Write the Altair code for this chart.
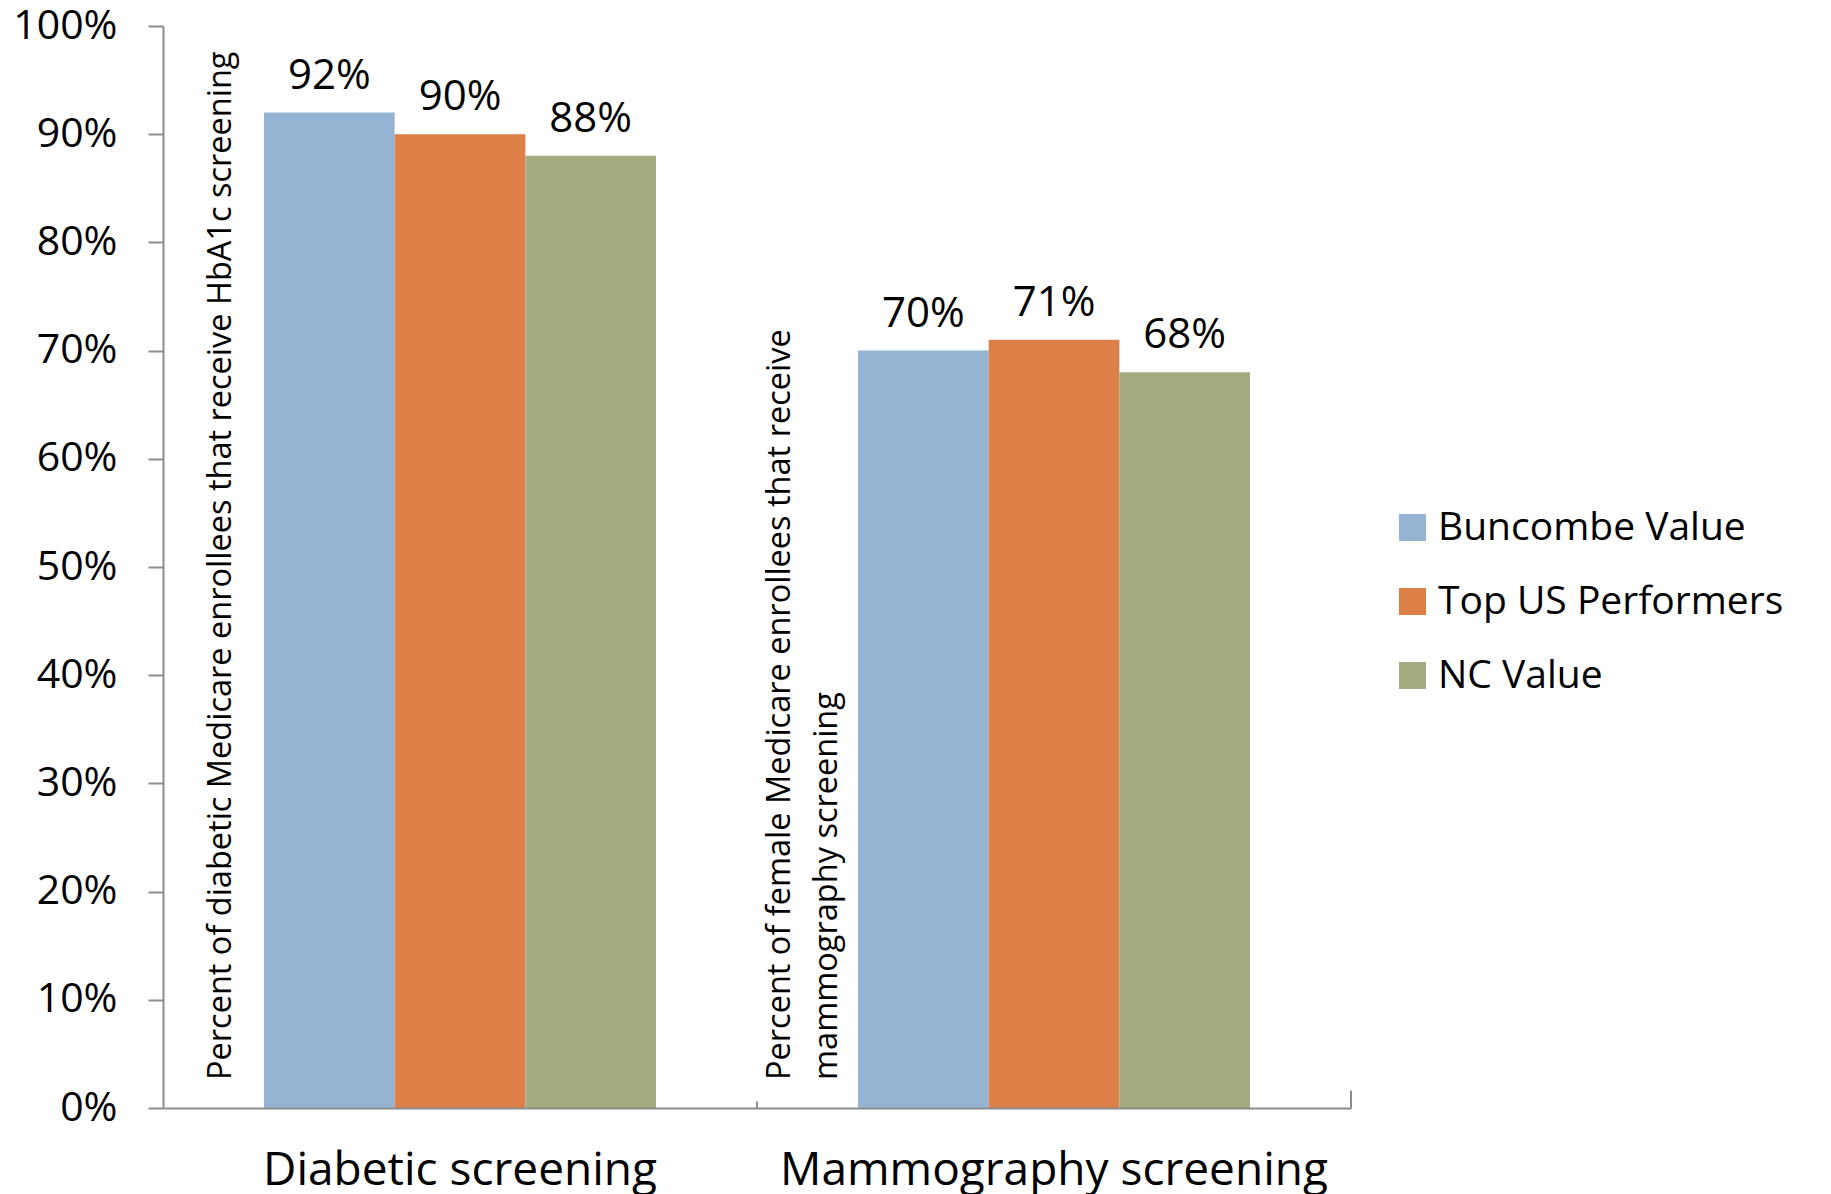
import altair as alt
import pandas as pd

# ---- data ----
categories = ["Diabetic screening", "Mammography screening"]
series = ["Buncombe Value", "Top US Performers", "NC Value"]
buncombe_value = [0.92, 0.70]
top_us_performers = [0.90, 0.71]
nc_value = [0.88, 0.68]
colors = ["#95B4D3", "#DD8047", "#A5AB81"]
y_tick_values = [0.0, 0.1, 0.2, 0.3, 0.4, 0.5, 0.6, 0.7, 0.8, 0.9, 1.0]
note_diabetic = ["Percent of diabetic Medicare enrollees that receive HbA1c screening"]
note_mammography = ["Percent of female Medicare enrollees that receive", "mammography screening"]

FONT = "Open Sans"
GRAY = "#8C8C8C"

rows = []
for s, vals in zip(series, [buncombe_value, top_us_performers, nc_value]):
    for c, v in zip(categories, vals):
        rows.append({"category": c, "series": s, "value": v})
df = pd.DataFrame(rows)

x_enc = alt.X(
    "category:N",
    sort=categories,
    scale=alt.Scale(paddingInner=0.34, paddingOuter=0.17),
    axis=alt.Axis(
        title=None, labelAngle=0, labelAlign="center", labelFont=FONT, labelFontSize=46,
        labelColor="black", ticks=False, tickSize=0, labelPadding=62, labelLimit=0,
        domainColor=GRAY, domainWidth=2, zindex=1,
    ),
)
y_enc = alt.Y(
    "value:Q",
    scale=alt.Scale(domain=[0, 1], nice=False),
    axis=alt.Axis(
        title=None, values=y_tick_values, format=".0%", labelFont=FONT, labelFontSize=41,
        labelColor="black", labelPadding=31, tickSize=15, tickColor=GRAY, tickWidth=2,
        domainColor=GRAY, domainWidth=2, gridColor=GRAY, gridWidth=2, labelLimit=0,
    ),
)

base = alt.Chart(df)

bars = base.mark_bar().encode(
    x=x_enc,
    xOffset=alt.XOffset("series:N", sort=series, scale=alt.Scale(paddingInner=0, paddingOuter=0)),
    y=y_enc,
    color=alt.Color(
        "series:N", sort=series, scale=alt.Scale(domain=series, range=colors),
        legend=alt.Legend(
            title=None, orient="none", legendX=1230, legendY=482, symbolType="square",
            symbolSize=729, symbolStrokeWidth=0, labelFont=FONT, labelFontSize=39,
            labelColor="black", rowPadding=34, labelOffset=6, padding=0, labelLimit=0,
        ),
    ),
)

labels = base.mark_text(font=FONT, fontSize=42, baseline="alphabetic", dy=-24, color="black").encode(
    x=alt.X("category:N", sort=categories),
    xOffset=alt.XOffset("series:N", sort=series),
    y=alt.Y("value:Q"),
    text=alt.Text("value:Q", format=".0%"),
)

notes1 = alt.Data(values=[{"category": categories[0], "note": note_diabetic}])
notes2 = alt.Data(values=[{"category": categories[1], "note": note_mammography}])

box1 = alt.Chart(notes1).mark_bar(color="white", width=81, xOffset=-233.5).encode(
    x=alt.X("category:N", sort=categories), y=alt.datum(1.0), y2=alt.datum(0.004)
)
box2 = alt.Chart(notes2).mark_bar(color="white", width=110, xOffset=-250).encode(
    x=alt.X("category:N", sort=categories), y=alt.datum(0.74), y2=alt.datum(0.004)
)

text1 = alt.Chart(notes1).mark_text(
    font=FONT, fontSize=32.5, angle=270, align="left", baseline="alphabetic",
    dx=28, dy=-229, lineHeight=47, color="black",
).encode(x=alt.X("category:N", sort=categories), y=alt.datum(0.0), text="note:N")

text2 = alt.Chart(notes2).mark_text(
    font=FONT, fontSize=32.5, angle=270, align="left", baseline="alphabetic",
    dx=28, dy=-264, lineHeight=47, color="black",
).encode(x=alt.X("category:N", sort=categories), y=alt.datum(0.0), text="note:N")

tick_mid = alt.Chart(notes2).mark_rule(color=GRAY, strokeWidth=2, xOffset=-297).encode(
    x=alt.X("category:N", sort=categories), y=alt.datum(0.0), y2=alt.datum(0.006)
)
tick_end = alt.Chart(notes2).mark_rule(color=GRAY, strokeWidth=2, xOffset=297).encode(
    x=alt.X("category:N", sort=categories), y=alt.datum(0.0), y2=alt.datum(0.016)
)

chart = alt.layer(box1, box2, bars, labels, text1, text2, tick_mid, tick_end).properties(
    width=1188,
    height=1082,
    autosize=alt.AutoSizeParams(type="none"),
    padding={"left": 155, "top": 18, "right": 452, "bottom": 88},
    background="white",
).configure_view(stroke=None)

chart.save("out.html", embed_options={"renderer": "svg", "actions": False})
